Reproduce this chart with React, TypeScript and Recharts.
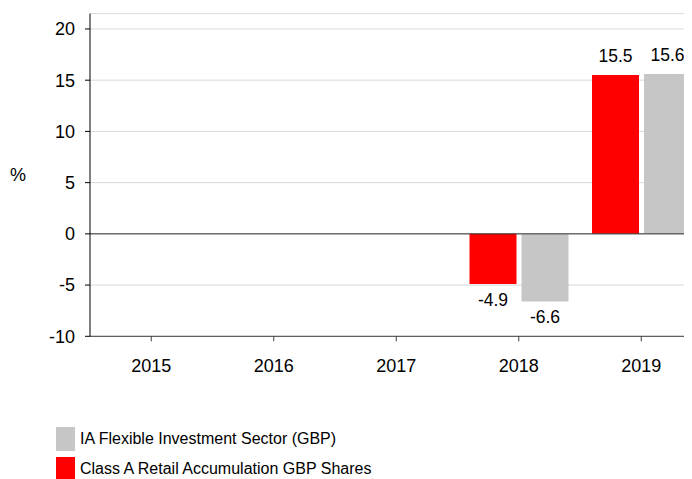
import { BarChart, Bar, XAxis, YAxis, CartesianGrid, ReferenceLine, LabelList, Legend, Label } from "recharts";

const YEARS = ["2015", "2016", "2017", "2018", "2019"];
const CLASS_A = [null, null, null, -4.9, 15.5];
const SECTOR = [null, null, null, -6.6, 15.6];
const Y_TICKS = [-10, -5, 0, 5, 10, 15, 20];

const RED = "#ff0000";
const GREY = "#c6c6c6";
const FONT = "Arial, 'Liberation Sans', Helvetica, sans-serif";

const data = YEARS.map((year, i) => ({ year, classA: CLASS_A[i], sector: SECTOR[i] }));

const LEGEND_ITEMS = [
  { name: "IA Flexible Investment Sector (GBP)", color: GREY },
  { name: "Class A Retail Accumulation GBP Shares", color: RED },
];

const ValueLabel = (props: any) => {
  const { x, y, width, height, value } = props;
  if (value === null || value === undefined) return null;
  const top = Math.min(y, y + height);
  const bottom = Math.max(y, y + height);
  const cx = x + width / 2;
  const ty = value >= 0 ? top - 13 : bottom + 22;
  return (
    <text x={cx} y={ty} textAnchor="middle" fontSize={17.5} fill="#000" fontFamily={FONT}>
      {value.toFixed(1)}
    </text>
  );
};

const LegendBox = () => (
  <div style={{ fontFamily: FONT, fontSize: 16, color: "#000" }}>
    {LEGEND_ITEMS.map((item) => (
      <div key={item.name} style={{ display: "flex", alignItems: "center", height: 30 }}>
        <span style={{ display: "inline-block", width: 19, height: 24, background: item.color, marginRight: 5 }} />
        <span>{item.name}</span>
      </div>
    ))}
  </div>
);

const App = () => (
  <div style={{ width: 684, height: 471, overflow: "hidden" }}>
    <BarChart
      width={700}
      height={471}
      data={data}
      margin={{ top: 5.6, right: 5.5, left: 0, bottom: 0 }}
      barSize={47}
      barGap={5}
      style={{ fontFamily: FONT }}
    >
      <CartesianGrid vertical={false} stroke="#d9d9d9" />
      <XAxis
        dataKey="year"
        height={142.7}
        stroke="#404040"
        tickSize={5}
        tickMargin={18}
        tick={{ fontSize: 18, fill: "#000" }}
      />
      <YAxis
        width={82}
        domain={[-10, 21.5]}
        ticks={Y_TICKS}
        stroke="#000"
        tickSize={5}
        tickMargin={10}
        tick={{ fontSize: 18, fill: "#000" }}
        allowDataOverflow
      >
        <Label value="%" position="insideLeft" offset={2} fontSize={18} fill="#000" />
      </YAxis>
      <ReferenceLine y={0} stroke="#333" />
      <Legend
        layout="vertical"
        align="center"
        verticalAlign="middle"
        wrapperStyle={{ left: 48, top: 416, width: "auto" }}
        content={() => <LegendBox />}
      />
      <Bar dataKey="classA" name="Class A Retail Accumulation GBP Shares" fill={RED} isAnimationActive={false}>
        <LabelList dataKey="classA" content={ValueLabel} />
      </Bar>
      <Bar dataKey="sector" name="IA Flexible Investment Sector (GBP)" fill={GREY} isAnimationActive={false}>
        <LabelList dataKey="sector" content={ValueLabel} />
      </Bar>
    </BarChart>
  </div>
);

export default App;
